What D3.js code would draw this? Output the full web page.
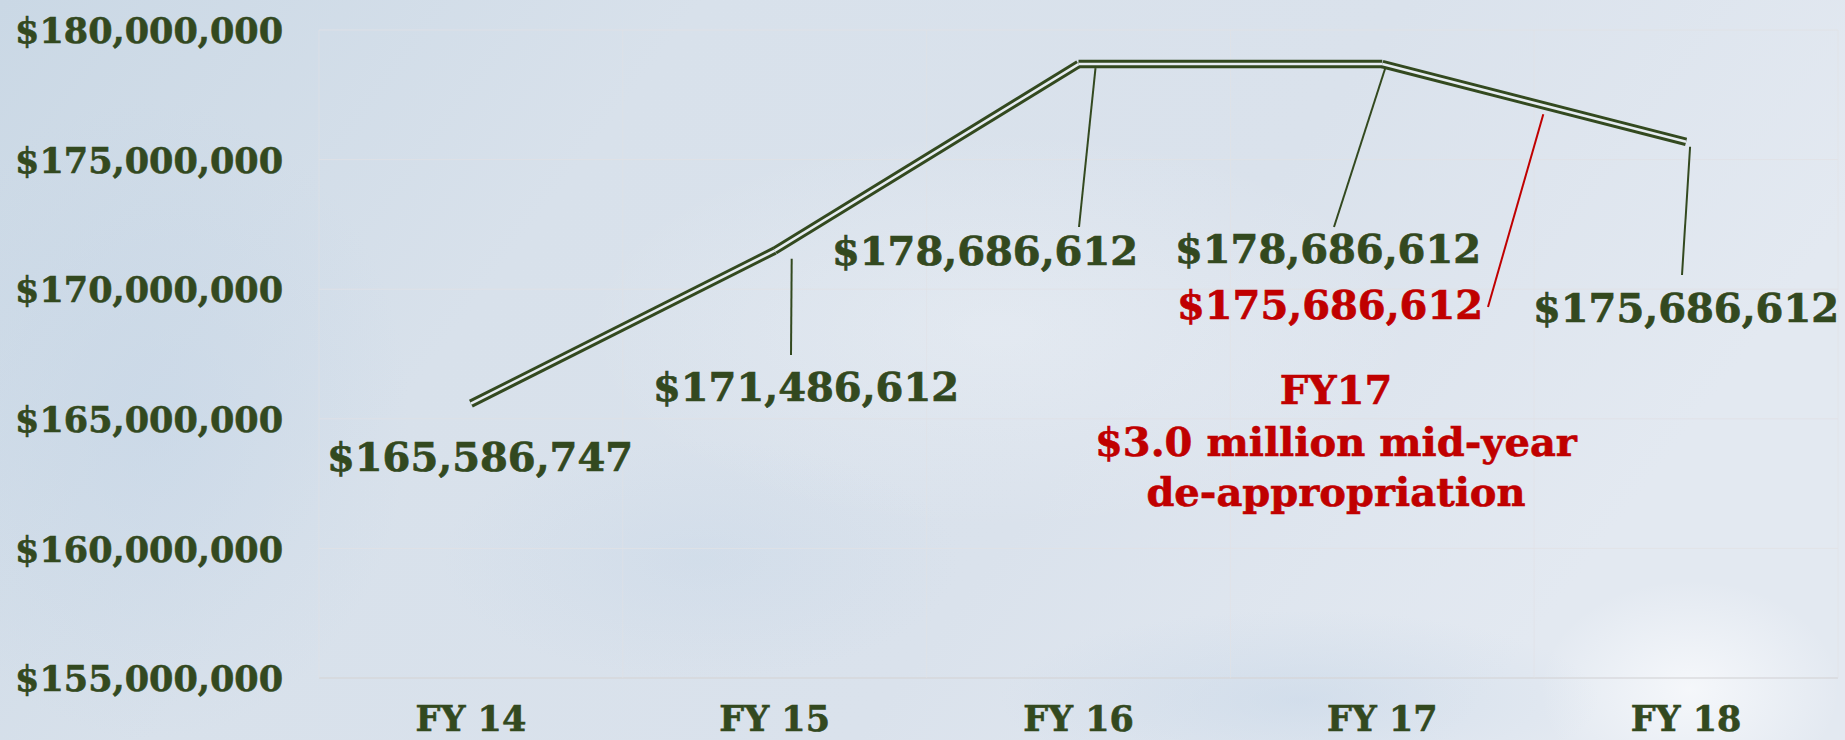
<!DOCTYPE html>
<html>
<head>
<meta charset="utf-8">
<script src="https://cdn.jsdelivr.net/npm/d3@7"></script>
<style>
  html, body { margin: 0; padding: 0; background: #d6e0ea; }
  svg { display: block; }
  text { font-family: "DejaVu Serif", serif; font-weight: bold; }
</style>
</head>
<body>
<svg id="chart" width="1845" height="740"></svg>
<script>
// ---- data ----
const categories = ["FY 14", "FY 15", "FY 16", "FY 17", "FY 18"];
const values = [165586747, 171486612, 178686612, 178686612, 175686612];
const valueLabels = ["$165,586,747", "$171,486,612", "$178,686,612", "$178,686,612", "$175,686,612"];
const yTicks = [155000000, 160000000, 165000000, 170000000, 175000000, 180000000];
const revisedFY17 = 175686612;
const revisedLabel = "$175,686,612";
const noteLines = ["FY17", "$3.0 million mid-year", "de-appropriation"];

// ---- layout ----
const W = 1845, H = 740;
const plot = { left: 319, right: 1838, top: 30, bottom: 678 };
const green = "#33491f", red = "#c00000";

const svg = d3.select("#chart");

// background sky
const defs = svg.append("defs");
const bg = defs.append("linearGradient").attr("id", "bg").attr("x1", 0).attr("y1", 0).attr("x2", 1).attr("y2", 0.3);
bg.append("stop").attr("offset", "0%").attr("stop-color", "#cad8e5");
bg.append("stop").attr("offset", "35%").attr("stop-color", "#d8e1eb");
bg.append("stop").attr("offset", "70%").attr("stop-color", "#dae2ec");
bg.append("stop").attr("offset", "100%").attr("stop-color", "#e3e9f1");
svg.append("rect").attr("width", W).attr("height", H).attr("fill", "url(#bg)");
const cloud = defs.append("radialGradient").attr("id", "cloud");
cloud.append("stop").attr("offset", "0%").attr("stop-color", "#f6f8fb").attr("stop-opacity", 0.95);
cloud.append("stop").attr("offset", "100%").attr("stop-color", "#f6f8fb").attr("stop-opacity", 0);
const blue = defs.append("radialGradient").attr("id", "blue");
blue.append("stop").attr("offset", "0%").attr("stop-color", "#c3d4e6").attr("stop-opacity", 0.8);
blue.append("stop").attr("offset", "100%").attr("stop-color", "#c3d4e6").attr("stop-opacity", 0);
svg.append("ellipse").attr("cx", 1690).attr("cy", 690).attr("rx", 150).attr("ry", 110).attr("fill", "url(#cloud)");
svg.append("ellipse").attr("cx", 1000).attr("cy", 330).attr("rx", 420).attr("ry", 200).attr("fill", "url(#cloud)").attr("opacity", 0.35);
svg.append("ellipse").attr("cx", 150).attr("cy", 420).attr("rx", 260).attr("ry", 320).attr("fill", "url(#blue)").attr("opacity", 0.6);
svg.append("ellipse").attr("cx", 1300).attr("cy", 700).attr("rx", 300).attr("ry", 90).attr("fill", "url(#blue)").attr("opacity", 0.6);
svg.append("ellipse").attr("cx", 700).attr("cy", 560).attr("rx", 260).attr("ry", 120).attr("fill", "url(#blue)").attr("opacity", 0.4);

// scales
const x = d3.scaleBand().domain(categories).range([plot.left, plot.right]).padding(0);
const y = d3.scaleLinear().domain([155000000, 180000000]).range([plot.bottom, plot.top]);
const cx = c => x(c) + x.bandwidth() / 2;

// grid
const grid = svg.append("g");
grid.selectAll("line.h").data(yTicks).join("line")
  .attr("x1", plot.left).attr("x2", plot.right)
  .attr("y1", d => y(d)).attr("y2", d => y(d))
  .attr("stroke", d => d === yTicks[0] ? "#d6d6d8" : "#e2e2e6")
  .attr("stroke-width", d => d === yTicks[0] ? 1.5 : 1).attr("opacity", 0.8);
const bounds = categories.map(c => x(c)).concat([plot.right]);
grid.selectAll("line.v").data(bounds).join("line")
  .attr("x1", d => d).attr("x2", d => d)
  .attr("y1", plot.top).attr("y2", plot.bottom)
  .attr("stroke", "#e2e2e6").attr("stroke-width", 1).attr("opacity", 0.6);

// y axis
const yAxis = d3.axisLeft(y).tickValues(yTicks).tickSize(0).tickPadding(0)
  .tickFormat(d => "$" + d3.format(",")(d));
const yg = svg.append("g").attr("transform", "translate(283,0)").call(yAxis);
yg.select(".domain").remove();
yg.selectAll("text").attr("fill", green).attr("font-size", 35)
  .attr("stroke", green).attr("stroke-width", 0.6)
  .attr("font-family", "DejaVu Serif").attr("font-weight", "bold").attr("dy", "0.36em");

// x axis
const xAxis = d3.axisBottom(x).tickSize(0).tickPadding(0);
const xg = svg.append("g").attr("transform", "translate(0,731)").call(xAxis);
xg.select(".domain").remove();
xg.selectAll("text").attr("fill", green).attr("font-size", 35)
  .attr("stroke", green).attr("stroke-width", 0.6)
  .attr("font-family", "DejaVu Serif").attr("font-weight", "bold").attr("dy", 0);

// line (double stroke, segments with butt caps)
const pts = categories.map((c, i) => [cx(c), y(values[i])]);
const segs = d3.pairs(pts);
const lineG = svg.append("g");
lineG.selectAll("line.o").data(segs).join("line")
  .attr("x1", d => d[0][0]).attr("y1", d => d[0][1]).attr("x2", d => d[1][0]).attr("y2", d => d[1][1])
  .attr("stroke", green).attr("stroke-width", 8.5).attr("stroke-linecap", "butt");
lineG.selectAll("line.i").data(segs).join("line")
  .attr("x1", d => d[0][0]).attr("y1", d => d[0][1]).attr("x2", d => d[1][0]).attr("y2", d => d[1][1])
  .attr("stroke", "#e6ecf1").attr("stroke-width", 2.6).attr("stroke-linecap", "butt");

// value labels layout: label centre x, baseline y, leader [start dx, start dy from point, end x, end y]
const labelLayout = [
  { tx: 480, ty: 471, leader: null },
  { tx: 806, ty: 401, leader: [17, 8, 791, 355] },
  { tx: 985, ty: 265, leader: [17, 4, 1079, 227] },
  { tx: 1328, ty: 263, leader: [3, 4, 1334, 227] },
  { tx: 1686, ty: 322, leader: [4, 5, 1682, 275] }
];
const lg = svg.append("g");
labelLayout.forEach((L, i) => {
  const p = pts[i];
  if (L.leader) {
    lg.append("line")
      .attr("x1", p[0] + L.leader[0]).attr("y1", p[1] + L.leader[1])
      .attr("x2", L.leader[2]).attr("y2", L.leader[3])
      .attr("stroke", green).attr("stroke-width", 2);
  }
  lg.append("text").attr("x", L.tx).attr("y", L.ty).attr("text-anchor", "middle")
    .attr("font-size", 40).attr("fill", green).attr("stroke", green).attr("stroke-width", 0.7)
    .text(valueLabels[i]);
});

// revised FY17 annotation
const t = 0.53;
const a = pts[3], b = pts[4];
const ax = a[0] + t * (b[0] - a[0]), ay = a[1] + t * (b[1] - a[1]);
lg.append("line").attr("x1", ax).attr("y1", ay + 9).attr("x2", 1488).attr("y2", 307)
  .attr("stroke", red).attr("stroke-width", 2);
lg.append("text").attr("x", 1330).attr("y", 319).attr("text-anchor", "middle")
  .attr("font-size", 40).attr("fill", red).attr("stroke", red).attr("stroke-width", 0.7)
  .text(revisedLabel);

const noteY = [404, 456, 506];
svg.append("g").selectAll("text").data(noteLines).join("text")
  .attr("x", 1336).attr("y", (d, i) => noteY[i]).attr("text-anchor", "middle")
  .attr("font-size", 40).attr("fill", red).attr("stroke", red).attr("stroke-width", 0.6)
  .text(d => d);
</script>
</body>
</html>
